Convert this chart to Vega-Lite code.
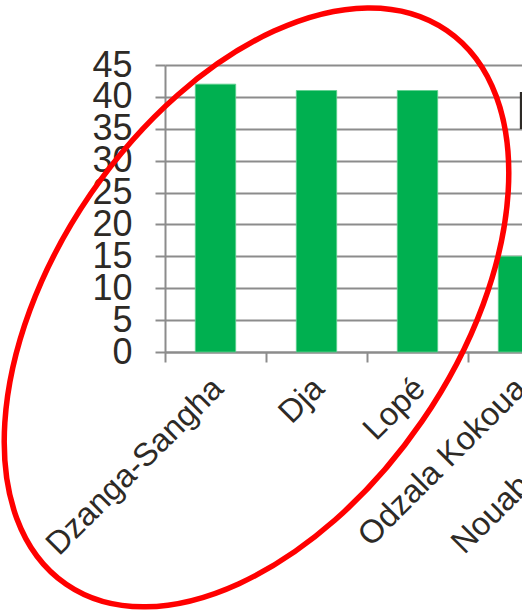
{
  "$schema": "https://vega.github.io/schema/vega-lite/v6.json",
  "autosize": "none",
  "width": 357,
  "height": 287,
  "padding": {"left": 165, "top": 65, "right": 0, "bottom": 261},
  "background": "white",
  "config": {
    "view": {"stroke": null},
    "font": "Liberation Sans"
  },
  "resolve": {"axis": {"x": "independent", "y": "independent"}},
  "datasets": {
    "sites": [
      {"site": "Dzanga-Sangha", "value": 42},
      {"site": "Dja", "value": 41},
      {"site": "Lopé", "value": 41},
      {"site": "Odzala Kokoua", "value": 15},
      {"site": "Nouabalé-Ndoki", "value": null}
    ],
    "one": [{"k": 1}]
  },
  "layer": [
    {
      "data": {"name": "sites"},
      "mark": {"type": "bar", "color": "#00b050", "stroke": "#5fd08f", "strokeWidth": 0.8, "width": {"band": 0.4}},
      "encoding": {
        "x": {
          "field": "site",
          "type": "nominal",
          "sort": null,
          "scale": {
            "domain": ["Dzanga-Sangha", "Dja", "Lopé", "Odzala Kokoua", "Nouabalé-Ndoki"],
            "range": [0, 505],
            "paddingInner": 0,
            "paddingOuter": 0
          },
          "axis": {
            "title": null,
            "labelAngle": -45,
            "labelAlign": "right",
            "labelBaseline": "middle",
            "labelFont": "Liberation Sans",
            "labelFontSize": 32.5,
            "labelColor": "#2d2a26",
            "labelPadding": 21,
            "labelOffset": 2,
            "labelLimit": 0,
            "tickBand": "extent",
            "tickSize": 10,
            "tickWidth": 2,
            "tickColor": "#8c8c8c",
            "domainColor": "#8c8c8c",
            "domainWidth": 2,
            "grid": false,
            "labelOverlap": false,
            "labelBound": false
          }
        },
        "y": {
          "field": "value",
          "type": "quantitative",
          "scale": {"domain": [0, 45], "nice": false},
          "axis": {
            "title": null,
            "values": [0, 5, 10, 15, 20, 25, 30, 35, 40, 45],
            "labelFont": "Liberation Sans",
            "labelFontSize": 36,
            "labelColor": "#2d2a26",
            "labelPadding": 23,
            "labelOverlap": false,
            "labelBound": false,
            "labelFlush": false,
            "tickSize": 10,
            "tickWidth": 2,
            "tickColor": "#8c8c8c",
            "domainColor": "#8c8c8c",
            "domainWidth": 2,
            "grid": true,
            "gridColor": "#8c8c8c",
            "gridWidth": 2
          }
        }
      }
    },
    {
      "data": {"name": "one"},
      "mark": {"type": "text", "text": "N", "font": "Liberation Sans", "fontSize": 53, "color": "#2d2a26", "align": "left", "baseline": "alphabetic", "xOffset": -3},
      "encoding": {
        "x": {"datum": "Odzala Kokoua", "type": "nominal", "axis": null},
        "y": {"datum": 35, "type": "quantitative", "axis": null}
      }
    },
    {
      "data": {"name": "one"},
      "mark": {
        "type": "point",
        "shape": "M -1 0 A 1 0.598 0 1 1 1 0 A 1 0.598 0 1 1 -1 0 Z",
        "size": 451584,
        "angle": 304.5,
        "filled": false,
        "stroke": "#ff0000",
        "strokeWidth": 5.5,
        "opacity": 1,
        "xOffset": 41
      },
      "encoding": {
        "x": {"datum": "Dzanga-Sangha", "type": "nominal", "axis": null},
        "y": {"datum": 7, "type": "quantitative", "axis": null}
      }
    }
  ]
}
